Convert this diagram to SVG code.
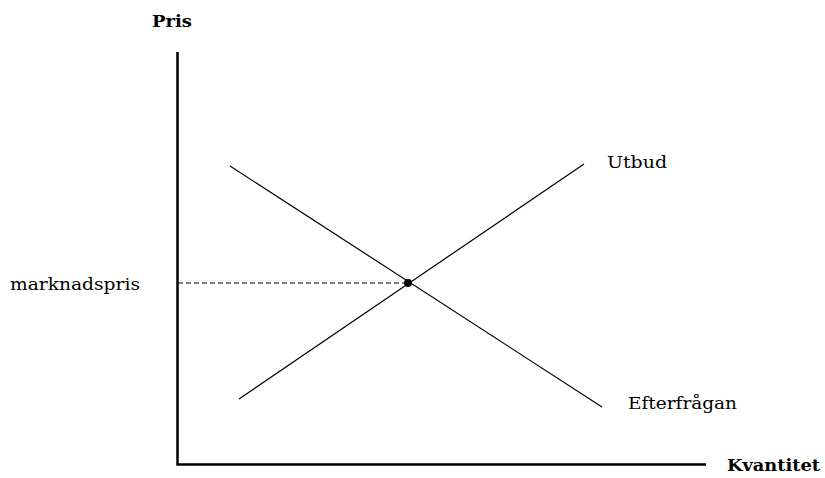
<svg xmlns="http://www.w3.org/2000/svg" width="825" height="478" viewBox="0 0 825 478">
<style>
.t{font-family:"DejaVu Serif","Liberation Serif",serif;font-size:16px;fill:#000}
.b{font-family:"DejaVu Serif","Liberation Serif",serif;font-size:17px;font-weight:bold;fill:#000}
.ax{stroke:#000;stroke-width:2.5;fill:none}
.ln{stroke:#000;stroke-width:1.2;fill:none}
</style>
<rect width="825" height="478" fill="#fff"/>
<g id="axes">
<path class="ax" d="M177.5 52 V464.5 H706"/>
</g>
<g id="connectors">
<line class="ln" x1="239" y1="399" x2="584" y2="164"/>
<line class="ln" x1="230" y1="166" x2="602" y2="407"/>
<line class="ln" x1="178" y1="283" x2="408" y2="283" stroke-dasharray="5,3"/>
</g>
<g id="equilibrium"><circle cx="408" cy="283" r="4" fill="#000"/></g>
<g id="labels">
<text class="b" x="152" y="27" textLength="40" lengthAdjust="spacingAndGlyphs">Pris</text>
<text class="b" x="727" y="471" textLength="93" lengthAdjust="spacingAndGlyphs">Kvantitet</text>
<text class="t" x="10" y="290" textLength="130" lengthAdjust="spacingAndGlyphs">marknadspris</text>
<text class="t" x="607" y="168" textLength="60" lengthAdjust="spacingAndGlyphs">Utbud</text>
<text class="t" x="628" y="409" textLength="109" lengthAdjust="spacingAndGlyphs">Efterfrågan</text>
</g>
</svg>
